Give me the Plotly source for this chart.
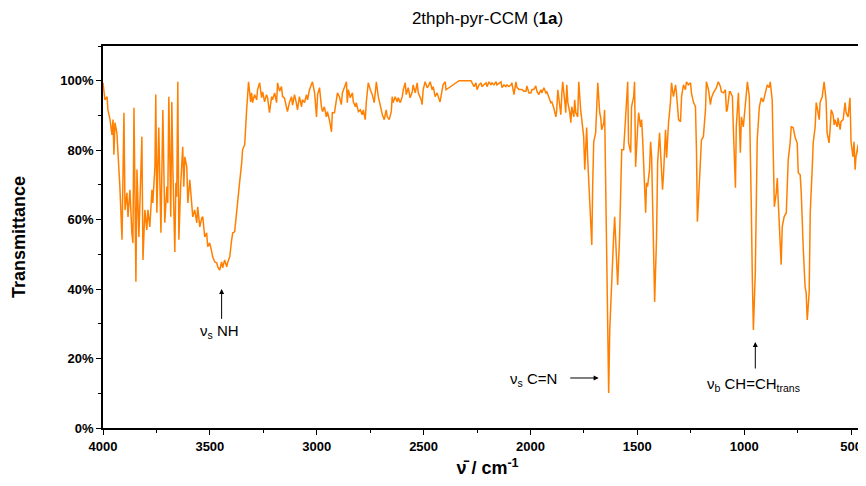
import plotly.graph_objects as go

# IR spectrum (wavenumber in cm-1, transmittance in %)
wn_high = [4000, 3991, 3981, 3977, 3967, 3958, 3953, 3949, 3944, 3935, 3930, 3921, 3911, 3907,
           3902, 3897, 3888, 3883, 3874, 3865, 3860, 3855, 3846, 3841, 3832, 3818, 3813, 3804,
           3795, 3790, 3781, 3771, 3767, 3757, 3753, 3748, 3743, 3739, 3729, 3725, 3720, 3711,
           3701, 3697, 3692, 3683, 3678, 3673, 3664, 3659, 3655, 3650, 3645, 3636, 3627, 3622,
           3617, 3608, 3603, 3594, 3585, 3580, 3571, 3561, 3557, 3547, 3538, 3533, 3524, 3515,
           3510, 3501, 3491, 3487, 3477, 3468, 3463, 3454, 3445, 3440, 3431, 3421, 3417, 3407,
           3398, 3393, 3384, 3375, 3370, 3361, 3351, 3347, 3337, 3333, 3328, 3319, 3309, 3305,
           3300, 3291, 3281, 3277, 3267, 3258, 3253, 3244, 3235, 3230, 3221, 3211, 3207, 3197,
           3188, 3183, 3174, 3165, 3160, 3151, 3141, 3137, 3127, 3118, 3113, 3104, 3095, 3090]
t_high = [99.4, 94.5, 95.4, 91.6, 88.8, 84.4, 88.8, 78.7, 87.9, 85.0, 79.3, 69.5, 54.2, 66.6,
          90.8, 62.8, 67.7, 60.8, 68.6, 56.2, 53.3, 92.2, 42.1, 74.4, 55.0, 83.9, 48.4, 62.8,
          57.0, 62.8, 57.9, 68.6, 64.8, 75.2, 96.0, 62.0, 78.1, 86.5, 56.2, 73.5, 91.6, 59.1,
          69.5, 64.8, 95.4, 60.8, 93.9, 74.4, 50.7, 70.6, 66.6, 99.7, 54.2, 70.6, 81.0, 69.5,
          78.1, 75.2, 64.8, 71.5, 64.8, 60.8, 62.8, 59.1, 63.7, 57.9, 60.5, 60.8, 55.0, 56.2,
          52.2, 53.3, 50.7, 49.3, 47.8, 47.6, 46.4, 45.5, 47.8, 46.1, 48.4, 46.4, 47.6, 49.3,
          54.2, 56.2, 56.5, 62.0, 67.1, 70.6, 76.4, 80.1, 81.6, 87.9, 91.6, 99.7, 93.9, 96.5,
          93.7, 96.0, 94.5, 97.4, 99.4, 95.1, 96.8, 93.9, 96.0, 95.1, 90.8, 95.4, 94.5, 96.5,
          93.7, 99.4, 97.0, 98.3, 95.5, 95.0, 92.5, 91.1, 93.9, 95.4, 93.0, 96.0, 93.5, 91.6]

wn_mid = [3081, 3071, 3067, 3057, 3048, 3043, 3034, 3024, 3020, 3010, 3001, 2996, 2987, 2978,
          2973, 2964, 2955, 2950, 2941, 2931, 2927, 2917, 2908, 2903, 2894, 2885, 2880, 2871,
          2861, 2857, 2852, 2843, 2833, 2829, 2819, 2815, 2805, 2796, 2787, 2782, 2773, 2768,
          2759, 2749, 2740, 2731, 2721, 2712, 2703, 2693, 2684, 2675, 2670, 2661, 2651, 2647,
          2642, 2633, 2623, 2619, 2609, 2600, 2595, 2586, 2581, 2572, 2563, 2553, 2549, 2539,
          2530, 2525, 2511, 2507, 2502, 2493, 2483, 2479, 2469, 2460, 2455, 2446, 2437, 2432,
          2423, 2413, 2409, 2399, 2395, 2334, 2278, 2273, 2264, 2255, 2250, 2241, 2231, 2227,
          2217, 2208, 2203, 2194, 2185, 2180, 2171, 2161, 2157, 2147, 2138, 2133, 2124, 2115,
          2110, 2101, 2091, 2087, 2077, 2068, 2063, 2054, 2045, 2040, 2031, 2021, 2017, 2007,
          1998, 1993, 1984, 1975, 1970, 1961, 1951, 1947, 1937, 1928, 1923, 1914, 1905, 1900]
t_mid = [95.4, 92.5, 94.5, 93.7, 96.0, 94.5, 97.4, 99.4, 99.7, 96.5, 89.6, 96.0, 98.0, 92.5,
         91.1, 92.5, 89.6, 91.1, 88.8, 85.3, 90.8, 90.8, 93.9, 96.5, 95.4, 93.1, 96.5, 98.0,
         99.7, 93.7, 97.4, 95.1, 96.5, 93.9, 92.5, 93.7, 91.1, 91.6, 90.2, 91.6, 88.8, 93.9,
         99.4, 97.4, 96.0, 93.7, 99.7, 95.4, 92.5, 90.2, 88.8, 91.6, 89.6, 88.8, 91.1, 95.4,
         93.7, 95.4, 93.9, 95.1, 93.7, 95.4, 97.4, 99.4, 96.0, 98.0, 95.1, 96.8, 98.8, 96.5,
         99.4, 96.5, 94.5, 93.1, 97.4, 99.7, 98.0, 98.3, 99.7, 97.4, 98.3, 95.4, 96.5, 95.4,
         93.9, 97.4, 98.8, 99.7, 97.4, 100.0, 100.0, 99.4, 98.3, 99.4, 97.4, 98.8, 99.4, 98.3,
         98.8, 99.4, 98.3, 99.7, 98.8, 99.4, 98.8, 99.7, 98.8, 99.4, 99.7, 98.0, 98.8, 98.3,
         98.8, 98.3, 98.8, 99.4, 96.0, 99.7, 98.0, 97.5, 97.4, 97.5, 97.0, 97.0, 98.5, 96.5,
         96.5, 97.5, 97.5, 98.5, 97.0, 96.0, 97.4, 96.5, 98.0, 96.5, 96.8, 95.4, 93.7, 93.9]

wn_low = [1891, 1881, 1877, 1872, 1863, 1858, 1853, 1849, 1839, 1835, 1830, 1825, 1816, 1811,
          1807, 1797, 1793, 1788, 1779, 1774, 1765, 1760, 1751, 1746, 1741, 1737, 1732, 1723,
          1713, 1709, 1704, 1695, 1690, 1685, 1676, 1671, 1667, 1657, 1653, 1648, 1639, 1634,
          1629, 1620, 1611, 1606, 1601, 1592, 1583, 1578, 1573, 1564, 1559, 1555, 1545, 1541,
          1531, 1527, 1517, 1513, 1508, 1499, 1494, 1485, 1480, 1475, 1466, 1461, 1457, 1452,
          1443, 1438, 1433, 1424, 1419, 1410, 1405, 1396, 1391, 1382, 1377, 1368, 1363, 1354,
          1345, 1340, 1331, 1321, 1317, 1307, 1298, 1293, 1284, 1275, 1270, 1261, 1251, 1247,
          1237, 1228, 1223, 1219, 1209, 1200, 1191, 1181, 1177, 1167, 1158, 1153, 1144, 1135,
          1130, 1121, 1111, 1107, 1097, 1088, 1083, 1079, 1069, 1065, 1055, 1051, 1041, 1037,
          1027, 1018, 1013, 1004, 995, 985, 976, 971, 967, 962, 957, 948, 943, 939,
          929, 925, 920, 911, 901, 897, 892, 883, 878, 869, 864, 859, 850, 845,
          841, 831, 827, 822, 813, 803, 799, 794, 785, 780, 771, 761, 752, 747,
          738, 733, 724, 715, 710, 705, 696, 691, 682, 677, 668, 663, 659, 649,
          645, 635, 626, 617, 612, 603, 598, 593, 584, 579, 575, 565, 561, 551,
          547, 537, 528, 523, 514, 505, 500, 491, 486, 481, 477, 467, 463, 453,
          449, 444, 440]
t_low = [92.2, 89.6, 91.6, 97.4, 91.6, 90.2, 96.5, 99.7, 93.7, 90.8, 98.8, 93.7, 90.8, 87.9,
         92.5, 89.6, 94.5, 90.8, 89.6, 99.7, 91.6, 88.8, 83.9, 74.4, 81.0, 86.5, 77.2, 66.6,
         52.7, 69.5, 82.4, 85.0, 90.8, 99.4, 90.8, 89.3, 85.9, 87.9, 91.6, 70.6, 45.5, 10.1,
         28.2, 43.5, 55.0, 60.8, 53.3, 41.2, 55.0, 68.6, 80.1, 80.1, 85.9, 89.6, 99.7, 82.1,
         79.3, 92.5, 95.4, 99.7, 75.2, 85.9, 90.8, 86.7, 88.8, 83.0, 66.6, 62.0, 70.6, 69.5,
         74.4, 82.4, 78.1, 53.3, 36.3, 55.0, 76.4, 85.0, 79.3, 68.6, 73.5, 85.9, 77.8, 87.9,
         93.7, 99.4, 95.4, 98.8, 96.5, 88.8, 88.2, 95.4, 98.8, 97.4, 99.7, 98.8, 99.4, 96.5,
         93.7, 92.5, 79.3, 59.4, 71.5, 83.0, 83.9, 91.6, 99.7, 97.4, 93.1, 95.1, 96.5, 97.4,
         98.0, 99.7, 98.3, 96.8, 96.5, 97.4, 91.1, 91.6, 96.8, 96.8, 95.4, 86.7, 69.2, 86.7,
         96.5, 79.3, 89.6, 86.7, 93.7, 99.7, 95.4, 82.1, 64.8, 43.5, 28.2, 44.7, 72.3, 83.0,
         92.5, 93.7, 95.1, 93.9, 96.5, 96.8, 98.8, 98.0, 99.7, 94.5, 77.2, 63.7, 67.7, 72.0,
         65.7, 48.4, 47.0, 57.9, 60.8, 62.0, 69.5, 77.2, 82.1, 86.7, 86.5, 83.6, 82.1, 73.5,
         72.9, 67.7, 52.2, 40.6, 38.9, 31.1, 38.9, 62.0, 74.4, 82.1, 86.7, 93.7, 92.5, 88.8,
         93.7, 95.4, 99.7, 94.5, 85.0, 82.1, 85.9, 91.6, 90.2, 87.3, 88.8, 86.7, 89.3, 85.9,
         88.2, 88.8, 93.7, 90.8, 89.6, 95.1, 82.4, 78.1, 82.4, 74.4, 78.1, 81.6, 77.2, 75.2,
         76.4, 73.5, 74.9]

wavenumber = wn_high + wn_mid + wn_low
transmittance = t_high + t_mid + t_low

FONT = "Liberation Sans, Arial, sans-serif"

fig = go.Figure()
fig.add_trace(go.Scatter(
    x=wavenumber, y=transmittance, mode="lines",
    line=dict(color="#ff8000", width=1.5),
    showlegend=False,
))

axis_common = dict(
    showline=True, linecolor="black", linewidth=1.8, mirror=True,
    ticks="outside", ticklen=5, tickwidth=1.2, tickcolor="black",
    showgrid=False, zeroline=False,
    tickfont=dict(family=FONT, size=13, color="black", weight="bold"),
)

# the plot runs past the right edge of the window, as in the reference
fig.update_xaxes(
    range=[4000, 402], dtick=500, tick0=0,
    minor=dict(ticks="outside", ticklen=3, dtick=250, tickcolor="black", tickwidth=1.2),
    title=dict(text="<b>ν̄ / cm<sup>-1</sup></b>", font=dict(family=FONT, size=18, color="black"),
               standoff=9),
    **axis_common,
)
fig.update_yaxes(
    range=[0, 110], dtick=20, ticksuffix="%",
    minor=dict(ticks="outside", ticklen=3, dtick=10, tickcolor="black", tickwidth=1.2),
    title=dict(text="<b>Transmittance</b>", font=dict(family=FONT, size=18, color="black"),
               standoff=30),
    **axis_common,
)

arrow = dict(showarrow=True, arrowhead=2, arrowsize=1, arrowwidth=1, arrowcolor="black",
             axref="x", ayref="y", xref="x", yref="y", text="")
label_font = dict(family=FONT, size=15, color="black")

fig.update_layout(
    width=866, height=486,
    margin=dict(l=95, r=0, t=38, b=66),
    paper_bgcolor="white", plot_bgcolor="white",
    title=dict(text="2thph-pyr-CCM (<b>1a</b>)", x=0.5, xref="paper", xanchor="center",
               y=0.979, yanchor="middle",
               font=dict(family=FONT, size=17, color="black")),
    annotations=[
        dict(x=3445, y=40, ax=3445, ay=31, **arrow),
        dict(x=3455, y=27.8, text="ν<sub>s</sub> NH", showarrow=False, font=label_font),
        dict(x=1681, y=14.4, ax=1821, ay=14.4, **arrow),
        dict(x=1985, y=14.0, text="ν<sub>s</sub> C=N", showarrow=False, font=label_font),
        dict(x=948, y=24.8, ax=948, ay=16.7, **arrow),
        dict(x=957, y=12.6, text="ν<sub>b</sub> CH=CH<sub>trans</sub>", showarrow=False,
             font=label_font),
    ],
)

fig.write_html("out.html")
